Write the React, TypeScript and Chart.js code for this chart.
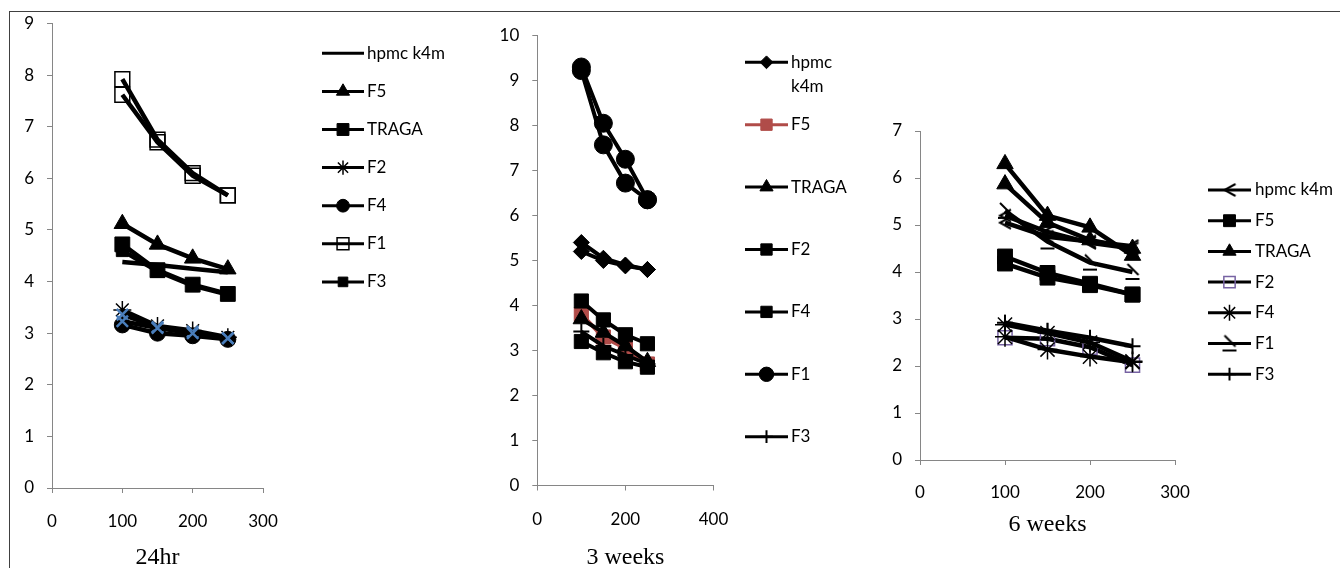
import React, { useEffect, useRef } from "react";
import { Chart, registerables } from "chart.js";
import { drawPoint } from "chart.js/helpers";

Chart.register(...registerables);

// ---------- data ----------
const xValues = [100, 150, 200, 250];

const panelTitles = ["24hr", "3 weeks", "6 weeks"];
const yMaxes = [9, 10, 7];
const xMaxes = [300, 400, 300];
const xSteps = [100, 200, 100];

// 24hr
const h24_hpmc = [4.38, 4.32, 4.25, 4.18];
const h24_F5 = [5.12, 4.72, 4.45, 4.24];
const h24_TRAGA = [4.72, 4.22, 3.94, 3.76];
const h24_F2 = [3.45, 3.14, 3.05, 2.92];
const h24_F4 = [3.16, 3.0, 2.95, 2.88];
const h24_F1 = [7.92, 6.75, 6.1, 5.67];
const h24_F3 = [4.6, 4.2, 3.92, 3.75];
const h24_extraSquare = [7.62, 6.7, 6.05, 5.67];
const h24_extraCrossA = [3.36, 3.12, 3.03, 2.9];
const h24_extraCrossB = [3.23, 3.1, 3.0, 2.9];

// 3 weeks
const w3_hpmc = [5.4, 5.05, 4.9, 4.8];
const w3_F5 = [3.8, 3.3, 3.05, 2.7];
const w3_TRAGA = [3.7, 3.4, 3.1, 2.75];
const w3_F2 = [4.1, 3.68, 3.35, 3.15];
const w3_F4 = [3.2, 2.95, 2.75, 2.63];
const w3_F1 = [9.3, 8.05, 7.25, 6.35];
const w3_F3 = [3.42, 3.1, 2.9, 2.7];
const w3_extraCircle = [9.22, 7.57, 6.72, 6.35];
const w3_extraDiamond = [5.2, 5.0, 4.88, 4.8];

// 6 weeks
const w6_hpmc = [5.05, 4.75, 4.65, 4.55];
const w6_F5 = [4.33, 3.98, 3.75, 3.52];
const w6_TRAGA = [6.3, 5.2, 4.95, 4.35];
const w6_F2 = [2.6, 2.58, 2.4, 2.02];
const w6_F4 = [2.88, 2.7, 2.5, 2.1];
const w6_F1 = [5.3, 4.65, 4.2, 4.0];
const w6_F3 = [2.92, 2.75, 2.6, 2.42];
const w6_extraTriangle = [5.87, 5.05, 4.68, 4.5];
const w6_extraSquare = [4.18, 3.88, 3.72, 3.52];
const w6_extraChevron = [5.2, 4.85, 4.62, 4.5];
const w6_extraStar = [2.62, 2.35, 2.2, 2.08];

// ---------- styles ----------
const BLACK = "#000000";
const AXIS = "#868686";
const RED = "#B04C49";
const BLUE = "#4A7EBB";
const PURPLE = "#7763A3";
const NONE = "rgba(0,0,0,0)";

function makeMarker(draw: (g: CanvasRenderingContext2D, m: number) => void) {
  const c = document.createElement("canvas");
  c.width = 22;
  c.height = 22;
  const g = c.getContext("2d")!;
  g.strokeStyle = BLACK;
  g.lineWidth = 2;
  g.lineCap = "butt";
  draw(g, 11);
  return c;
}

type Mk = { style: any; r: number; fill: string; stroke: string; bw: number };

function ds(label: string, data: number[], mk: Mk | null, o: any = {}) {
  return {
    label,
    data: xValues.map((x, i) => ({ x, y: data[i] })),
    borderColor: o.color || BLACK,
    borderWidth: o.lw || 4.5,
    pointStyle: mk ? mk.style : "circle",
    pointRadius: mk ? mk.r : 0,
    pointHoverRadius: mk ? mk.r : 0,
    pointBackgroundColor: mk ? mk.fill : NONE,
    pointBorderColor: mk ? mk.stroke : NONE,
    pointBorderWidth: mk ? mk.bw : 0,
    tension: 0,
    fill: false,
    inLegend: o.inLegend !== false,
  };
}

const excelLegend = {
  id: "excelLegend",
  afterDraw(chart: any) {
    const o = chart.options.plugins.excelLegend;
    if (!o) return;
    const ctx: CanvasRenderingContext2D = chart.ctx;
    const items = chart.data.datasets.filter((d: any) => d.inLegend);
    ctx.save();
    items.forEach((d: any, i: number) => {
      const y = o.top + i * o.spacing;
      ctx.strokeStyle = d.borderColor;
      ctx.lineWidth = 3;
      ctx.beginPath();
      ctx.moveTo(o.x0, y);
      ctx.lineTo(o.x1, y);
      ctx.stroke();
      if (d.pointRadius > 0) {
        ctx.fillStyle = d.pointBackgroundColor;
        ctx.strokeStyle = d.pointBorderColor;
        ctx.lineWidth = d.pointBorderWidth;
        drawPoint(
          ctx,
          {
            pointStyle: d.pointStyle,
            rotation: 0,
            radius: d.pointRadius * 0.8,
            borderWidth: d.pointBorderWidth,
          } as any,
          (o.x0 + o.x1) / 2,
          y
        );
      }
      ctx.fillStyle = BLACK;
      ctx.font = "17px Lato";
      ctx.textBaseline = "middle";
      ctx.textAlign = "left";
      const words = String(d.label).split(" ");
      const lines: string[] = [];
      let cur = "";
      words.forEach((w) => {
        const t = cur ? cur + " " + w : w;
        if (cur && o.maxWidth && ctx.measureText(t).width > o.maxWidth) {
          lines.push(cur);
          cur = w;
        } else cur = t;
      });
      lines.push(cur);
      lines.forEach((ln, k) => ctx.fillText(ln, o.textX, y + k * 24.7));
    });
    ctx.restore();
  },
};

const TICK_SIZE = 17;

function scales(p: any) {
  const tickFont = { family: "Lato", size: TICK_SIZE };
  const grid = {
    drawOnChartArea: false,
    drawTicks: true,
    tickLength: 5,
    color: AXIS,
    lineWidth: 1,
  };
  const border = { display: true, color: AXIS, width: 1 };
  return {
    x: {
      type: "linear",
      min: 0,
      max: p.xMax,
      ticks: {
        stepSize: p.xStep,
        padding: p.xPad,
        color: BLACK,
        font: tickFont,
        maxRotation: 0,
        autoSkip: false,
      },
      grid,
      border,
      title: {
        display: true,
        text: p.title,
        color: BLACK,
        font: { family: "Liberation Serif", size: 24, lineHeight: 1.2 },
        padding: { top: 0, bottom: p.titlePad },
      },
      afterFit: (s: any) => {
        s.height = p.xAxisH;
      },
    },
    y: {
      type: "linear",
      min: 0,
      max: p.yMax,
      ticks: { stepSize: 1, padding: 13, color: BLACK, font: tickFont },
      grid,
      border,
      afterFit: (s: any) => {
        s.width = 42;
      },
    },
  };
}

const CANVAS_H = 600;

const panels = [
  {
    left: 0,
    width: 460,
    area: { left: 52, right: 263, top: 23.5, bottom: 488 },
    xLabelY: 521.7,
    titleY: 558,
    legend: { x0: 322, x1: 364, textX: 367, top: 53.3, spacing: 38.1, maxWidth: 0 },
  },
  {
    left: 460,
    width: 400,
    area: { left: 77.3, right: 253.5, top: 35.5, bottom: 485.5 },
    xLabelY: 520,
    titleY: 558,
    legend: { x0: 285, x1: 328, textX: 331, top: 62.3, spacing: 62.4, maxWidth: 55 },
  },
  {
    left: 860,
    width: 480,
    area: { left: 60, right: 315, top: 131, bottom: 460 },
    xLabelY: 492.7,
    titleY: 525,
    legend: { x0: 348, x1: 391, textX: 395, top: 190, spacing: 30.7, maxWidth: 0 },
  },
];

function buildDatasets(idx: number) {
  const tri: Mk = { style: "triangle", r: 9.5, fill: BLACK, stroke: BLACK, bw: 1 };
  const sqBig: Mk = { style: "rect", r: 10.5, fill: BLACK, stroke: BLACK, bw: 1 };
  const sqSmall: Mk = { style: "rect", r: 8.5, fill: BLACK, stroke: BLACK, bw: 1 };
  const openSq: Mk = { style: "rect", r: 10.5, fill: NONE, stroke: BLACK, bw: 1.5 };
  const star: Mk = { style: "star", r: 9, fill: BLACK, stroke: BLACK, bw: 1.5 };
  const circ: Mk = { style: "circle", r: 8, fill: BLACK, stroke: BLACK, bw: 1 };
  const blueX: Mk = { style: "crossRot", r: 8, fill: BLUE, stroke: BLUE, bw: 2.5 };
  if (idx === 0) {
    return [
      ds("hpmc k4m", h24_hpmc, null),
      ds("F5", h24_F5, tri),
      ds("TRAGA", h24_TRAGA, sqBig),
      ds("F2", h24_F2, star),
      ds("F4", h24_F4, circ),
      ds("F1", h24_F1, openSq),
      ds("F3", h24_F3, sqSmall),
      ds("F1b", h24_extraSquare, openSq, { inLegend: false }),
      ds("F2b", h24_extraCrossA, blueX, { inLegend: false }),
      ds("F2c", h24_extraCrossB, blueX, { inLegend: false }),
    ];
  }
  if (idx === 1) {
    const dia: Mk = { style: "rectRot", r: 8, fill: BLACK, stroke: BLACK, bw: 1 };
    const redSq: Mk = { style: "rect", r: 10, fill: RED, stroke: RED, bw: 1 };
    const sq: Mk = { style: "rect", r: 10, fill: BLACK, stroke: BLACK, bw: 1 };
    const c2: Mk = { style: "circle", r: 9, fill: BLACK, stroke: BLACK, bw: 1 };
    const plus: Mk = { style: "cross", r: 8, fill: BLACK, stroke: BLACK, bw: 2 };
    const lw = 4;
    return [
      ds("hpmc k4m", w3_hpmc, dia, { lw }),
      ds("F5", w3_F5, redSq, { lw, color: RED }),
      ds("TRAGA", w3_TRAGA, tri, { lw }),
      ds("F2", w3_F2, sq, { lw }),
      ds("F4", w3_F4, sq, { lw }),
      ds("F1", w3_F1, c2, { lw }),
      ds("F3", w3_F3, plus, { lw }),
      ds("F1b", w3_extraCircle, c2, { lw, inLegend: false }),
      ds("hpmc b", w3_extraDiamond, dia, { lw, inLegend: false }),
    ];
  }
  const chevron = makeMarker((g, m) => {
    g.beginPath();
    g.moveTo(m + 6, m - 6);
    g.lineTo(m - 5, m);
    g.lineTo(m + 6, m + 6);
    g.stroke();
  });
  const f1Marker = makeMarker((g, m) => {
    g.beginPath();
    g.moveTo(m - 5, m - 8);
    g.lineTo(m + 6, m + 3);
    g.moveTo(m - 7, m + 7);
    g.lineTo(m + 7, m + 7);
    g.stroke();
  });
  const chev: Mk = { style: chevron, r: 8, fill: NONE, stroke: BLACK, bw: 2 };
  const f1m: Mk = { style: f1Marker, r: 8, fill: NONE, stroke: BLACK, bw: 2 };
  const purpleSq: Mk = { style: "rect", r: 10, fill: NONE, stroke: PURPLE, bw: 1.5 };
  const plus3: Mk = { style: "cross", r: 8, fill: BLACK, stroke: BLACK, bw: 2 };
  const star3: Mk = { style: "star", r: 10, fill: BLACK, stroke: BLACK, bw: 1.5 };
  return [
    ds("hpmc k4m", w6_hpmc, chev),
    ds("F5", w6_F5, sqBig),
    ds("TRAGA", w6_TRAGA, tri),
    ds("F2", w6_F2, purpleSq),
    ds("F4", w6_F4, star3),
    ds("F1", w6_F1, f1m),
    ds("F3", w6_F3, plus3),
    ds("TRAGA b", w6_extraTriangle, tri, { inLegend: false }),
    ds("F5 b", w6_extraSquare, sqBig, { inLegend: false }),
    ds("hpmc b", w6_extraChevron, chev, { inLegend: false }),
    ds("F4 b", w6_extraStar, star3, { inLegend: false }),
  ];
}

function Panel({ idx }: { idx: number }) {
  const ref = useRef<HTMLCanvasElement>(null);
  const p = panels[idx];
  useEffect(() => {
    if (!ref.current) return;
    const datasets: any[] = buildDatasets(idx);
    datasets.forEach((d, i) => (d.order = datasets.length - i));
    const lineH = TICK_SIZE * 1.2;
    const xAxisH = CANVAS_H - p.area.bottom;
    const chart = new Chart(ref.current, {
      type: "line",
      data: { datasets },
      plugins: [excelLegend],
      options: {
        responsive: false,
        maintainAspectRatio: false,
        animation: false,
        events: [],
        layout: {
          padding: {
            left: p.area.left - 42,
            right: p.width - p.area.right,
            top: p.area.top,
            bottom: 0,
          },
        },
        scales: scales({
          xMax: xMaxes[idx],
          xStep: xSteps[idx],
          yMax: yMaxes[idx],
          title: panelTitles[idx],
          xPad: p.xLabelY - p.area.bottom - 5 - lineH / 2,
          titlePad: CANVAS_H - p.titleY - 14.4,
          xAxisH,
        }) as any,
        plugins: {
          legend: { display: false },
          tooltip: { enabled: false },
          excelLegend: p.legend,
        } as any,
      },
    } as any);
    return () => chart.destroy();
  }, [idx]);
  return (
    <canvas
      ref={ref}
      width={p.width}
      height={CANVAS_H}
      style={{
        position: "absolute",
        left: p.left,
        top: 0,
        width: p.width,
        height: CANVAS_H,
      }}
    />
  );
}

export default function App() {
  return (
    <div
      style={{
        position: "absolute",
        left: 0,
        top: 0,
        width: 1340,
        height: 568,
        overflow: "hidden",
        background: "#ffffff",
      }}
    >
      <div
        style={{
          position: "absolute",
          left: 9,
          top: 11,
          width: 2000,
          height: 2000,
          borderTop: "1px solid #404040",
          borderLeft: "1px solid #404040",
        }}
      />
      <Panel idx={0} />
      <Panel idx={1} />
      <Panel idx={2} />
    </div>
  );
}
